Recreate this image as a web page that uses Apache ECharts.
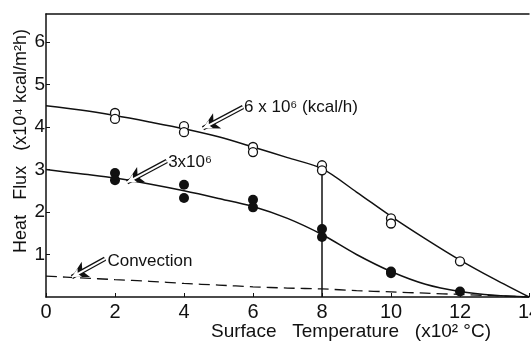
<!DOCTYPE html>
<html>
<head>
<meta charset="utf-8">
<script src="https://cdn.jsdelivr.net/npm/echarts@6/dist/echarts.min.js"></script>
<style>
  html, body { margin: 0; padding: 0; background: #fff; }
  #main { width: 531px; height: 344px; }
</style>
</head>
<body>
<div id="main"></div>
<script>
// 测点 (surface temperature x10^2 C, heat flux x10^4 kcal/m2h)
var tempOpen = [2, 2, 4, 4, 6, 6, 8, 8, 10, 10, 12];
var fluxOpen = [4.33, 4.19, 4.02, 3.88, 3.53, 3.41, 3.10, 2.98, 1.85, 1.73, 0.84];
var tempFilled = [2, 2, 4, 4, 6, 6, 8, 8, 10, 10, 12];
var fluxFilled = [2.92, 2.75, 2.64, 2.33, 2.29, 2.11, 1.60, 1.41, 0.60, 0.56, 0.13];

// 拟合曲线
var curveTemp = [0, 1, 2, 3, 4, 5, 6, 7, 8, 9, 10, 11, 12, 13, 14];
var curveHigh = [4.5, 4.4, 4.27, 4.12, 3.96, 3.77, 3.53, 3.28, 3.02, 2.47, 1.9, 1.37, 0.87, 0.42, 0];
var curveLow = [3.0, 2.9, 2.8, 2.66, 2.5, 2.32, 2.13, 1.85, 1.47, 1.0, 0.6, 0.3, 0.13, 0.04, 0];
var curveConv = [0.49, 0.45, 0.41, 0.37, 0.32, 0.28, 0.24, 0.21, 0.19, 0.15, 0.12, 0.09, 0.06, 0.03, 0];

// 竖线 at 8
var vlineTemp = [8, 8];
var vlineFlux = [0, 3.02];

// 注释文字和箭头
var noteText = ['6 x 10\u2076 (kcal/h)', '3x10\u2076', 'Convection'];
var noteX = [5.74, 3.54, 1.78];
var noteY = [4.47, 3.17, 0.84];
var arrowTail = [[5.71, 4.47], [3.5, 3.2], [1.71, 0.9]];
var arrowHead = [[4.55, 3.97], [2.35, 2.7], [0.75, 0.47]];

var xTicks = [0, 2, 4, 6, 8, 10, 12, 14];

function pairs(xs, ys) {
    return xs.map(function (x, i) { return [x, ys[i]]; });
}

var font = 'Liberation Sans, DejaVu Sans, sans-serif';
var ink = '#111';

function arrowLines(width, color, size) {
    return {
        silent: true,
        symbol: ['none', 'arrow'],
        symbolSize: size,
        label: { show: false },
        lineStyle: { color: color, width: width, type: 'solid', opacity: 1 },
        itemStyle: { color: color },
        emphasis: { disabled: true },
        animation: false,
        data: arrowTail.map(function (t, i) {
            return [{ coord: t }, { coord: arrowHead[i] }];
        })
    };
}

var myChart = echarts.init(document.getElementById('main'));
var option = {
    animation: false,
    backgroundColor: '#fff',
    grid: { left: 46, right: 2, top: 14, bottom: 47, containLabel: false, outerBoundsMode: 'none' },
    xAxis: [{
        type: 'value',
        min: 0, max: 14, interval: 2,
        axisLine: { show: true, lineStyle: { color: ink, width: 1.5 } },
        axisTick: { show: true, inside: true, length: 4, lineStyle: { color: ink } },
        axisLabel: {
            color: ink, fontSize: 20, fontFamily: font, margin: 5,
            customValues: xTicks
        },
        splitLine: { show: false }
    }, {
        type: 'value', position: 'top',
        min: 0, max: 14,
        axisLine: { show: true, lineStyle: { color: ink, width: 1.5 } },
        axisTick: { show: false },
        axisLabel: { show: false },
        splitLine: { show: false }
    }],
    yAxis: {
        type: 'value',
        min: 0, max: 6.66, interval: 1,
        axisLine: { show: true, lineStyle: { color: ink, width: 1.5 } },
        axisTick: { show: true, inside: true, length: 4, lineStyle: { color: ink } },
        axisLabel: {
            color: ink, fontSize: 19, fontFamily: font, margin: 1,
            showMinLabel: false, showMaxLabel: false
        },
        splitLine: { show: false }
    },
    graphic: [{
        type: 'text',
        x: 21, y: 141,
        rotation: Math.PI / 2,
        style: {
            text: 'Heat   Flux   (x10\u2074 kcal/m\u00b2h)',
            fontSize: 18, fontFamily: font, fill: ink,
            align: 'center', verticalAlign: 'middle'
        }
    }, {
        type: 'text',
        x: 351, y: 332,
        style: {
            text: 'Surface   Temperature   (x10\u00b2 \u00b0C)',
            fontSize: 19, fontFamily: font, fill: ink,
            align: 'center', verticalAlign: 'middle'
        }
    }],
    series: [{
        type: 'line',
        data: pairs(curveTemp, curveHigh),
        smooth: 0.3,
        showSymbol: false,
        lineStyle: { color: ink, width: 1.5 },
        z: 2
    }, {
        type: 'line',
        data: pairs(curveTemp, curveLow),
        smooth: 0.3,
        showSymbol: false,
        lineStyle: { color: ink, width: 1.5 },
        z: 2
    }, {
        type: 'line',
        data: pairs(curveTemp, curveConv),
        smooth: 0.3,
        showSymbol: false,
        lineStyle: { color: ink, width: 1.3, type: [11, 6] },
        z: 2
    }, {
        type: 'line',
        data: pairs(vlineTemp, vlineFlux),
        showSymbol: false,
        lineStyle: { color: ink, width: 1.5 },
        z: 2
    }, {
        type: 'scatter',
        data: pairs(tempOpen, fluxOpen),
        symbol: 'circle',
        symbolSize: 9,
        itemStyle: { color: '#fff', borderColor: ink, borderWidth: 1.3, opacity: 1 },
        z: 4
    }, {
        type: 'scatter',
        data: pairs(tempFilled, fluxFilled),
        symbol: 'circle',
        symbolSize: 10,
        itemStyle: { color: ink, opacity: 1 },
        z: 4
    }, {
        // 注释箭头（空心）：外层黑线 + 内层白线
        type: 'line',
        data: [],
        markLine: arrowLines(4.5, ink, [13, 16]),
        z: 5
    }, {
        type: 'line',
        data: [],
        markLine: arrowLines(2, '#fff', [7, 9]),
        z: 6
    }, {
        type: 'scatter',
        data: noteText.map(function (t, i) { return { value: [noteX[i], noteY[i]], name: t }; }),
        symbolSize: 0,
        itemStyle: { opacity: 1 },
        label: {
            show: true, position: 'right', distance: 0,
            formatter: '{b}',
            color: ink, fontSize: 17, fontFamily: font
        },
        z: 7
    }]
};
myChart.setOption(option);
</script>
</body>
</html>
